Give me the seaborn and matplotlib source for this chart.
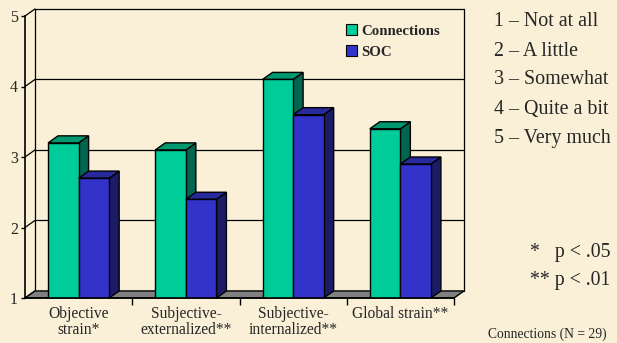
import numpy as np
import pandas as pd
import seaborn as sns
import matplotlib.pyplot as plt
from matplotlib.patches import Polygon

# ---- data -------------------------------------------------------------
categories = ["Objective\nstrain*", "Subjective-\nexternalized**",
              "Subjective-\ninternalized**", "Global strain**"]
series_names = ["Connections", "SOC"]
connections = [3.2, 3.1, 4.1, 3.4]
soc = [2.7, 2.4, 3.6, 2.9]
y_ticks = [1, 2, 3, 4, 5]
scale_labels = ["1 – Not at all", "2 – A little", "3 – Somewhat",
                "4 – Quite a bit", "5 – Very much"]
sig_labels = ["*   p < .05", "** p < .01"]
footnote = "Connections (N = 29)"

df = pd.DataFrame({
    "category": categories * 2,
    "value": connections + soc,
    "series": [series_names[0]] * len(categories) + [series_names[1]] * len(categories),
})

# ---- style ------------------------------------------------------------
bg = "#FAEFD7"
front = {"Connections": "#00CC99", "SOC": "#3333CC"}
top_col = {"Connections": "#00996F", "SOC": "#29299E"}
side_col = {"Connections": "#006650", "SOC": "#1C1C66"}

sns.set_theme(style="white")
plt.rcParams["font.family"] = ["Liberation Serif", "DejaVu Serif"]

fig = plt.figure(figsize=(6.17, 3.43), dpi=100, facecolor=bg)
ax = fig.add_axes([25 / 617, 1 - 298 / 343, 429 / 617, 282 / 343])
ax.set_facecolor("none")

sns.barplot(data=df, x="category", y="value", hue="series",
            palette=front, width=0.57, saturation=1,
            edgecolor="black", linewidth=1, ax=ax)

ax.set_xlim(-0.5, 3.5)
ax.set_ylim(1, 5)

# depth offset of the pseudo-3D box (data units)
dx, dy = 0.093, 0.10
x_lo, x_hi = -0.5, 3.5
y_lo, y_hi = 1, 5

# back wall gridlines and edges
for v in y_ticks[1:]:
    ax.plot([x_lo + dx, x_hi + dx], [v + dy, v + dy], color="black",
            lw=0.9, zorder=0.5, clip_on=False)
ax.plot([x_lo + dx, x_lo + dx], [y_lo + dy, y_hi + dy], color="black",
        lw=0.9, zorder=0.5, clip_on=False)
ax.plot([x_hi + dx, x_hi + dx], [y_lo + dy, y_hi + dy], color="black",
        lw=0.9, zorder=0.5, clip_on=False)
# left wall diagonals
for v in y_ticks:
    ax.plot([x_lo, x_lo + dx], [v, v + dy], color="black", lw=0.9,
            zorder=0.5, clip_on=False)

# floor
floor = Polygon([(x_lo, y_lo), (x_hi, y_lo), (x_hi + dx, y_lo + dy),
                 (x_lo + dx, y_lo + dy)], closed=True,
                facecolor="#808080", edgecolor="black", lw=1,
                zorder=1, clip_on=False)
ax.add_patch(floor)

# extrude each bar: top and side faces
bars = []
for name, cont in zip(series_names, ax.containers):
    for p in cont.patches:
        bars.append((p.get_x(), name, p))
bars.sort(key=lambda t: t[0])
for k, (_, name, p) in enumerate(bars):
    z = 2 + k * 0.1
    x0 = p.get_x()
    x1 = x0 + p.get_width()
    h = p.get_y() + p.get_height()
    p.set_zorder(z + 0.05)
    side = Polygon([(x1, y_lo), (x1 + dx, y_lo + dy), (x1 + dx, h + dy), (x1, h)],
                   closed=True, facecolor=side_col[name], edgecolor="black",
                   lw=1, zorder=z, clip_on=False)
    top = Polygon([(x0, h), (x1, h), (x1 + dx, h + dy), (x0 + dx, h + dy)],
                  closed=True, facecolor=top_col[name], edgecolor="black",
                  lw=1, zorder=z, clip_on=False)
    ax.add_patch(side)
    ax.add_patch(top)

# axes, ticks and labels
for s in ["top", "right"]:
    ax.spines[s].set_visible(False)
for s in ["left", "bottom"]:
    ax.spines[s].set_color("black")
    ax.spines[s].set_linewidth(1.2)
    ax.spines[s].set_zorder(6)
ax.set_yticks(y_ticks)
ax.set_yticklabels([str(v) for v in y_ticks])
ax.tick_params(axis="y", direction="out", length=3, width=1,
               color="black", labelsize=11.5, pad=2, left=True)
ax.set_xticks(range(len(categories)))
ax.set_xticklabels(categories)
ax.set_xticks([0.5, 1.5, 2.5, 3.5], minor=True)
ax.tick_params(axis="x", which="major", length=0, pad=6, labelsize=11.2)
ax.tick_params(axis="x", which="minor", direction="out", length=5,
               width=1, color="black", bottom=True)
for lab in ax.get_xticklabels():
    lab.set_linespacing(0.95)
ax.set_xlabel("")
ax.set_ylabel("")

# legend
handles, labels = ax.get_legend_handles_labels()
if ax.get_legend() is not None:
    ax.get_legend().remove()
leg = ax.legend(handles, labels, loc="upper left",
                bbox_to_anchor=(346 / 617, 1 - 24 / 343),
                bbox_transform=fig.transFigure, frameon=False,
                prop={"weight": "bold", "size": 10.7},
                handlelength=0.75, handleheight=0.75, handletextpad=0.3,
                labelspacing=0.5, borderpad=0, borderaxespad=0)
leg.set_zorder(10)
for h in leg.legend_handles:
    h.set_edgecolor("black")
    h.set_linewidth(0.8)

# side annotations
for i, t in enumerate(scale_labels):
    fig.text(494 / 617, 1 - (22 + i * 29) / 343, t, fontsize=14.4,
             va="center", ha="left")
for i, t in enumerate(sig_labels):
    fig.text(530 / 617, 1 - (252 + i * 28) / 343, t, fontsize=14.2,
             va="center", ha="left")
fig.text(488 / 617, 2 / 343, footnote, fontsize=9.8,
         va="bottom", ha="left")

fig.savefig("out.png", dpi=100, facecolor=bg)
